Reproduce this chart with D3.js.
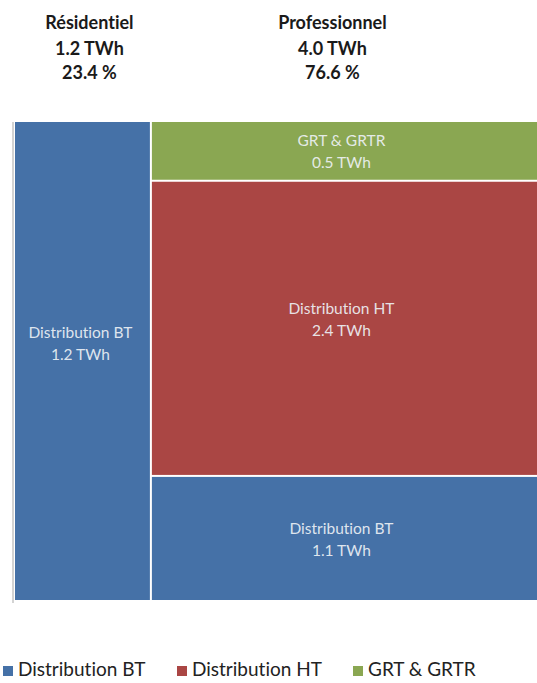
<!DOCTYPE html>
<html><head><meta charset="utf-8">
<script src="https://cdn.jsdelivr.net/npm/d3@7"></script>
<style>body{margin:0;background:#fff;overflow:hidden}svg{display:block}text{font-variant-ligatures:none;font-feature-settings:"liga" 0}</style>
</head><body>
<svg id="chart" width="537" height="683"></svg>
<script>
// ---- data ----
const columns = ["Résidentiel", "Professionnel"];
const columnTotals = ["1.2", "4.0"];           // TWh (header text)
const columnShares = [23.4, 76.6];             // % of total -> column widths
const segmentNames = ["Distribution BT", "Distribution HT", "GRT & GRTR"];
const residentialValues = [1.2, 0, 0];         // TWh per segment
const professionalValues = [1.03, 2.47, 0.50]; // TWh per segment (as drawn)
const residentialLabels = ["1.2", "", ""];
const professionalLabels = ["1.1", "2.4", "0.5"];
const colors = ["#4571a7", "#aa4644", "#8aa752"];

// ---- layout ----
const svg = d3.select("#chart");
const W = 537;
const plotLeft = 15, plotTop = 122, plotBottom = 600;
const fullWidth = 585; // the chart continues beyond the visible frame
const x = d3.scaleLinear().domain([0, 100]).range([plotLeft, plotLeft + fullWidth]);

const colValues = [residentialValues, professionalValues];
const colLabels = [residentialLabels, professionalLabels];
const headerNudge = [6, -12];
const labelNudge = [[-18, 0, 0], [1, -9, 0]];
const FONT = "Lato, 'Open Sans', sans-serif";

// axis line at left
svg.append("line").attr("x1", 13).attr("x2", 13).attr("y1", plotTop).attr("y2", plotBottom + 3)
  .attr("stroke", "#c4c4c4").attr("stroke-width", 1.5);

let cum = 0;
columns.forEach((col, ci) => {
  const x0 = x(cum), x1 = x(cum + columnShares[ci]);
  cum += columnShares[ci];
  const vals = colValues[ci];
  const total = d3.sum(vals);
  const y = d3.scaleLinear().domain([0, total]).range([plotBottom, plotTop]);
  const visCenter = (x0 + Math.min(x1, W)) / 2;
  const last = ci === columns.length - 1;
  let acc = 0;
  const g = svg.append("g");
  vals.forEach((v, si) => {
    if (v <= 0) return;
    const yb = y(acc), yt = y(acc + v);
    acc += v;
    const isBottom = si === 0;
    g.append("rect")
      .attr("x", x0)
      .attr("width", (x1 - x0) - (last ? 0 : 2))
      .attr("y", yt)
      .attr("height", Math.max(0, (yb - yt) - (isBottom ? 0 : 2)))
      .attr("fill", colors[si]);
    const segBottomVisible = yb - (isBottom ? 0 : 2);
    const cy = (yt + segBottomVisible) / 2 + labelNudge[ci][si];
    const b1 = cy - 5;
    const t = g.append("text")
      .attr("text-anchor", "middle")
      .attr("font-family", FONT)
      .attr("font-size", 15.5)
      .attr("fill", "#eef2f6")
      .attr("fill-opacity", 0.92);
    t.append("tspan").attr("x", visCenter - 3).attr("y", b1).text(segmentNames[si]);
    t.append("tspan").attr("x", visCenter - 3).attr("y", b1 + 22).text(colLabels[ci][si] + " TWh");
  });
  // header
  const hx = visCenter + headerNudge[ci];
  const h = svg.append("text").attr("text-anchor", "middle")
    .attr("font-family", FONT)
    .attr("font-weight", "bold").attr("font-size", 18).attr("fill", "#1a1a1a");
  h.append("tspan").attr("x", hx).attr("y", 29).text(col);
  h.append("tspan").attr("x", hx).attr("y", 55).text(columnTotals[ci] + " TWh");
  h.append("tspan").attr("x", hx).attr("y", 79).text(d3.format(".1f")(columnShares[ci]) + " %");
});

// legend
const legendX = [3, 177, 353];
const lg = svg.append("g");
segmentNames.forEach((n, i) => {
  lg.append("rect").attr("x", legendX[i]).attr("y", 666).attr("width", 10).attr("height", 10).attr("fill", colors[i]);
  lg.append("text").attr("x", legendX[i] + 15).attr("y", 676)
    .attr("font-family", FONT).attr("font-size", 19).attr("fill", "#222")
    .text(n);
});
</script>
</body></html>
